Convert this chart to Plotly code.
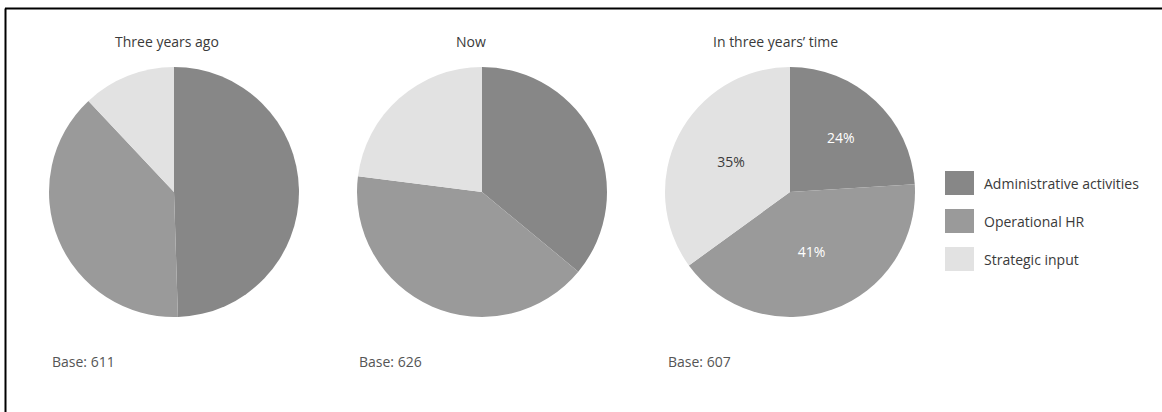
import plotly.graph_objects as go

W, H = 1162, 412

categories = ["Administrative activities", "Operational HR", "Strategic input"]
periods = ["Three years ago", "Now", "In three years\u2019 time"]
three_years_ago = [49.5, 38.5, 12]
now = [36, 41, 23]
in_three_years = [24, 41, 35]
bases = [611, 626, 607]
show_labels = [False, False, True]

colors = ["#878787", "#9a9a9a", "#e2e2e2"]
label_colors = ["#ffffff", "#ffffff", "#3a3a3a"]
FONT = "Open Sans, Noto Sans, DejaVu Sans, sans-serif"

series = [three_years_ago, now, in_three_years]
# pixel layout of each pie: (left, right, top, bottom)
pie_boxes = [(49, 299, 67, 317), (357, 607, 67, 317), (665, 915, 67, 317)]
title_x = [167, 471, 776]
base_x = [50, 357, 666]


def px(x):
    return x / W


def py(y):
    return 1 - y / H


fig = go.Figure()
for i, vals in enumerate(series):
    l, r, t, b = pie_boxes[i]
    fig.add_trace(go.Pie(
        labels=categories,
        values=vals,
        sort=False,
        direction="clockwise",
        rotation=0,
        marker=dict(colors=colors, line=dict(width=0)),
        domain=dict(x=[px(l), px(r)], y=[py(b), py(t)]),
        textinfo="text" if show_labels[i] else "none",
        text=[f"{v:g}%" for v in vals],
        textposition="inside",
        insidetextorientation="horizontal",
        textfont=dict(family=FONT, size=14, color=label_colors),
        showlegend=False,
        hoverinfo="label+value",
    ))

annotations = []
for i in range(3):
    annotations.append(dict(
        x=px(title_x[i]), y=py(42), xref="paper", yref="paper",
        text=periods[i], showarrow=False, xanchor="center", yanchor="middle",
        font=dict(family=FONT, size=14, color="#3a3a3a"),
    ))
    annotations.append(dict(
        x=px(base_x[i]), y=py(361), xref="paper", yref="paper",
        text=f"Base: {bases[i]}", showarrow=False, xanchor="left", yanchor="middle",
        font=dict(family=FONT, size=14, color="#555555"),
    ))

shapes = []
legend_y = [183, 221, 259]
for j, cat in enumerate(categories):
    yc = legend_y[j]
    shapes.append(dict(
        type="rect", xref="paper", yref="paper",
        x0=px(945), x1=px(974), y0=py(yc + 12), y1=py(yc - 12),
        fillcolor=colors[j], line=dict(width=0),
    ))
    annotations.append(dict(
        x=px(982), y=py(yc), xref="paper", yref="paper",
        text=cat, showarrow=False, xanchor="left", yanchor="middle",
        font=dict(family=FONT, size=14, color="#3a3a3a"),
    ))

# frame (only top and left edges visible in the crop)
shapes.append(dict(type="line", xref="paper", yref="paper",
                   x0=px(5), x1=1.01, y0=py(8.5), y1=py(8.5),
                   line=dict(color="#000000", width=2)))
shapes.append(dict(type="line", xref="paper", yref="paper",
                   x0=px(5.5), x1=px(5.5), y0=py(8.5), y1=-0.01,
                   line=dict(color="#000000", width=2)))

fig.update_layout(
    width=W, height=H,
    margin=dict(l=0, r=0, t=0, b=0),
    paper_bgcolor="#ffffff",
    plot_bgcolor="#ffffff",
    annotations=annotations,
    shapes=shapes,
    showlegend=False,
)

fig.write_html(
    "out.html",
    config={"displayModeBar": False},
    post_script="document.body.style.margin='0';document.body.style.overflow='hidden';",
)
